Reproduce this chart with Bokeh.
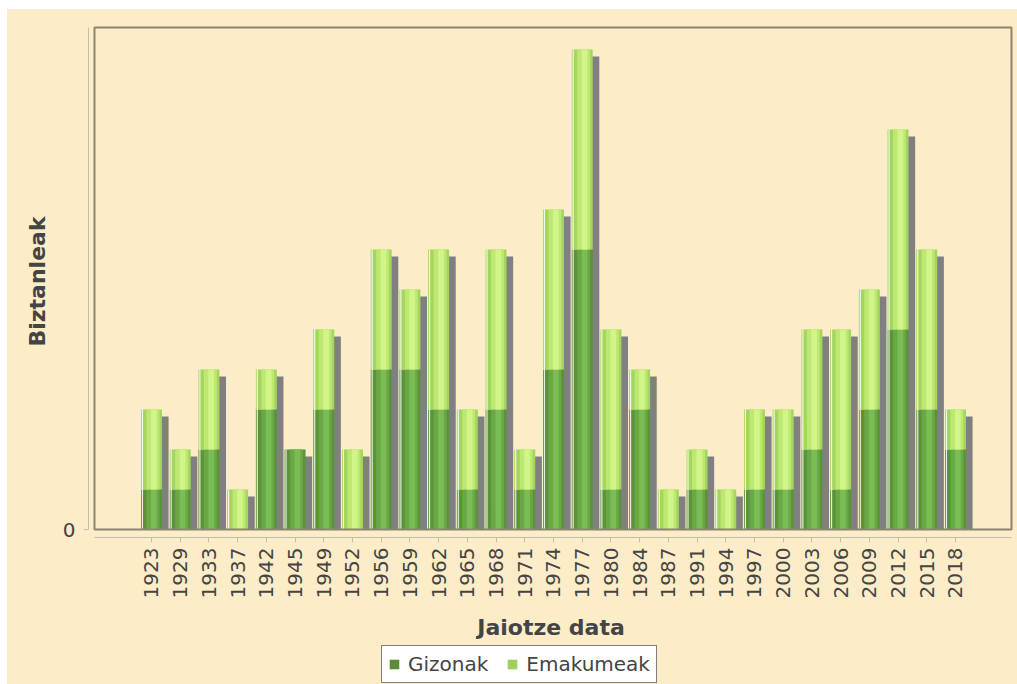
import math
from bokeh.plotting import figure
from bokeh.layouts import column
from bokeh.models import (Range1d, FixedTicker, Legend, LegendItem,
                          ColumnDataSource, BoxAnnotation)
from bokeh.transform import dodge
from bokeh.embed import file_html
from bokeh.resources import INLINE

# ---- data ----
years = [1923, 1929, 1933, 1937, 1942, 1945, 1949, 1952, 1956, 1959, 1962,
         1965, 1968, 1971, 1974, 1977, 1980, 1984, 1987, 1991, 1994, 1997,
         2000, 2003, 2006, 2009, 2012, 2015, 2018]
gizonak = [1, 1, 2, 0, 3, 2, 3, 0, 4, 4, 3, 1, 3, 1, 4, 7, 1, 3, 0, 1, 0, 1,
           1, 2, 1, 3, 5, 3, 2]
emakumeak = [2, 1, 2, 1, 1, 0, 2, 2, 3, 2, 4, 2, 4, 1, 4, 5, 4, 1, 1, 1, 1, 2,
             2, 3, 4, 3, 5, 4, 1]

series_names = ["Gizonak", "Emakumeak"]

# ---- derived ----
idx = list(range(len(years)))
total = [g + e for g, e in zip(gizonak, emakumeak)]

BG = "#fcedc8"
FONT = "DejaVu Sans"
BAR_W = 0.73
SH_DX = 0.23      # shadow offset (category units)
SH_DY = 0.175     # shadow drop (value units)

src = ColumnDataSource(dict(
    x=idx, g=gizonak, e=emakumeak, total=total,
    shadow_top=[t - SH_DY for t in total],
    zero=[0] * len(idx),
))

x_start, x_end = -2.194, 30.02
y_start, y_end = -0.2, 12.6
box_left, box_right, box_top = -1.985, 29.95, 12.55

p = figure(width=1010, height=635, output_backend="svg", toolbar_location=None,
           x_range=Range1d(x_start, x_end), y_range=Range1d(y_start, y_end),
           background_fill_color=BG, border_fill_color=BG,
           min_border_left=81, min_border_top=16, min_border_right=4,
           min_border_bottom=107, outline_line_color=None)
p.grid.visible = False

# shadow
p.vbar(x=dodge("x", SH_DX), bottom="zero", top="shadow_top", width=BAR_W,
       source=src, fill_color="#808080", line_color=None)

# colours (edge, mid, bright) to imitate the gradient
dark = ("#5b9339", "#6aa845", "#7bbd55")
light = ("#a4d65e", "#bde872", "#d2f58a")

p.vbar(x="x", bottom="zero", top="g", width=BAR_W, source=src,
       fill_color=dark[0], line_color=None)
p.vbar(x=dodge("x", 0.05), bottom="zero", top="g", width=0.45, source=src,
       fill_color=dark[1], line_color=None)
p.vbar(x=dodge("x", 0.08), bottom="zero", top="g", width=0.2, source=src,
       fill_color=dark[2], line_color=None)

p.vbar(x="x", bottom="g", top="total", width=BAR_W, source=src,
       fill_color=light[0], line_color=None)
p.vbar(x=dodge("x", 0.05), bottom="g", top="total", width=0.45, source=src,
       fill_color=light[1], line_color=None)
p.vbar(x=dodge("x", 0.08), bottom="g", top="total", width=0.2, source=src,
       fill_color=light[2], line_color=None)

# white highlight line at the left edge
p.vbar(x=dodge("x", -BAR_W / 2 + 0.05), bottom="zero", top="total", width=0.04,
       source=src, fill_color="white", fill_alpha=0.85, line_color=None)

# plot border (inner frame)
p.add_layout(BoxAnnotation(left=box_left, right=box_right, bottom=0,
                           top=box_top, fill_color=None, fill_alpha=0,
                           line_color="#8a8570", line_alpha=1, line_width=2))

# axes
for ax in (p.xaxis[0], p.yaxis[0]):
    ax.axis_line_color = "#c4bea8"
    ax.major_tick_line_color = "#c4bea8"
    ax.minor_tick_line_color = None
    ax.major_tick_in = 0
    ax.major_tick_out = 5
    ax.major_label_text_font = FONT
    ax.major_label_text_font_size = "20px"
    ax.major_label_text_color = "#444444"
    ax.axis_label_text_font = FONT
    ax.axis_label_text_font_size = "22px"
    ax.axis_label_text_font_style = "bold"
    ax.axis_label_text_color = "#444444"

p.xaxis[0].ticker = FixedTicker(ticks=idx)
p.xaxis[0].major_label_overrides = {i: str(y) for i, y in zip(idx, years)}
p.xaxis[0].major_label_orientation = math.pi / 2
p.xaxis[0].major_label_standoff = 5
p.xaxis[0].bounds = (box_left, box_right)
p.xaxis[0].axis_label = "Jaiotze data"
p.xaxis[0].axis_label_standoff = 14

p.yaxis[0].ticker = FixedTicker(ticks=[0])
p.yaxis[0].bounds = (0, box_top)
p.yaxis[0].major_label_standoff = 8
p.yaxis[0].axis_label = "Biztanleak"
p.yaxis[0].axis_label_standoff = 10

# ---- legend strip ----
q = figure(width=1010, height=40, output_backend="svg", toolbar_location=None,
           x_axis_location=None, y_axis_location=None,
           x_range=Range1d(5, 6), y_range=Range1d(5, 6),
           background_fill_color=BG, background_fill_alpha=1,
           border_fill_color=BG, outline_line_color=None, min_border=0)
q.grid.visible = False
swatch = ColumnDataSource(dict(x=[0], top=[1]))
lg_g = q.vbar(x="x", top="top", width=1, source=swatch, fill_color="#5b8c3a",
              line_color=None)
lg_e = q.vbar(x="x", top="top", width=1, source=swatch, fill_color="#9ccf5c",
              line_color=None)

legend = Legend(items=[LegendItem(label=series_names[0], renderers=[lg_g]),
                       LegendItem(label=series_names[1], renderers=[lg_e])],
                orientation="horizontal", location=(293, 1),
                border_line_color="black", border_line_width=1,
                background_fill_color="white", background_fill_alpha=1,
                label_text_font=FONT, label_text_font_size="20px",
                label_text_color="#444444",
                glyph_width=12, glyph_height=12, padding=6, spacing=18,
                label_standoff=8, margin=0)
q.add_layout(legend)

layout = column(p, q, spacing=0, margin=(9, 0, 0, 7),
                styles={"background-color": BG})
open("out.html", "w").write(file_html(layout, INLINE))
